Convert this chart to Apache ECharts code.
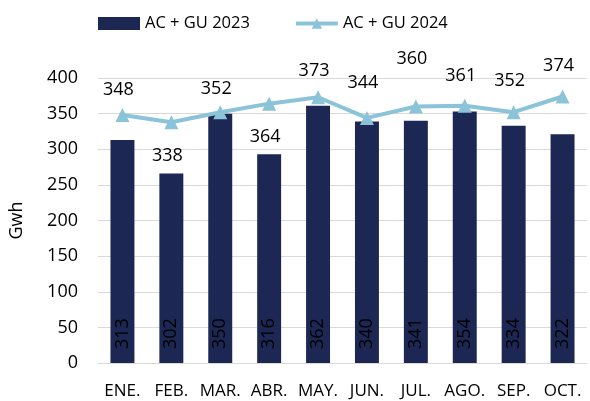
<!DOCTYPE html>
<html>
<head>
<meta charset="utf-8">
<script src="https://cdn.jsdelivr.net/npm/echarts@6/dist/echarts.min.js"></script>
<style>
  html, body { margin: 0; padding: 0; background: #fff; }
  #main { width: 590px; height: 401px; }
</style>
</head>
<body>
<div id="main"></div>
<script>
// datos
const months = ['ENE.', 'FEB.', 'MAR.', 'ABR.', 'MAY.', 'JUN.', 'JUL.', 'AGO.', 'SEP.', 'OCT.'];
const bars2023 = [313, 266, 350, 293, 361, 339, 340, 353, 333, 321];
const barLabels2023 = [313, 302, 350, 316, 362, 340, 341, 354, 334, 322];
const line2024 = [348, 338, 352, 364, 373, 344, 360, 361, 352, 374];
// desplazamiento vertical de las etiquetas de la linea (px)
const lineLabelDy = [-4, 55, -2, 54, -5, -14, -27, -9, -10, -10];

const FONT = 'Open Sans';
const chart = echarts.init(document.getElementById('main'));

const option = {
  animation: false,
  textStyle: { fontFamily: FONT },
  legend: {
    top: 10,
    left: 93,
    itemGap: 44,
    itemWidth: 42,
    itemHeight: 13,
    textStyle: { fontSize: 16.5, color: '#000', fontFamily: FONT },
    data: [
      { name: 'AC + GU 2023', icon: 'rect' },
      { name: 'AC + GU 2024', lineStyle: { width: 4 } }
    ]
  },
  grid: { left: 97, right: 3, top: 78, bottom: 38 },
  xAxis: {
    type: 'category',
    data: months,
    axisTick: { show: false },
    axisLine: { lineStyle: { color: '#d9d9d9', width: 1 } },
    axisLabel: { color: '#000', fontSize: 17, margin: 20, interval: 0 }
  },
  yAxis: {
    type: 'value',
    min: 0,
    max: 400,
    interval: 50,
    name: 'Gwh',
    nameLocation: 'middle',
    nameGap: 72,
    nameTextStyle: { fontSize: 18, color: '#000' },
    axisLabel: { color: '#000', fontSize: 18, margin: 20 },
    splitLine: { lineStyle: { color: '#d9d9d9', width: 1 } }
  },
  series: [
    {
      name: 'AC + GU 2023',
      type: 'bar',
      barWidth: '49%',
      itemStyle: { color: '#1c2754' },
      label: {
        show: true,
        position: 'insideBottom',
        rotate: 90,
        align: 'left',
        verticalAlign: 'middle',
        distance: 14,
        fontSize: 18,
        color: '#000',
        formatter: p => barLabels2023[p.dataIndex]
      },
      data: bars2023
    },
    {
      name: 'AC + GU 2024',
      type: 'line',
      symbol: 'triangle',
      symbolSize: 14,
      lineStyle: { color: '#8bc3d8', width: 4 },
      itemStyle: { color: '#8bc3d8' },
      label: {
        show: true,
        position: 'top',
        distance: 5,
        fontSize: 18,
        color: '#000'
      },
      data: line2024.map((v, i) => ({
        value: v,
        label: { offset: [-4, lineLabelDy[i]] }
      }))
    }
  ]
};

chart.setOption(option);
</script>
</body>
</html>
